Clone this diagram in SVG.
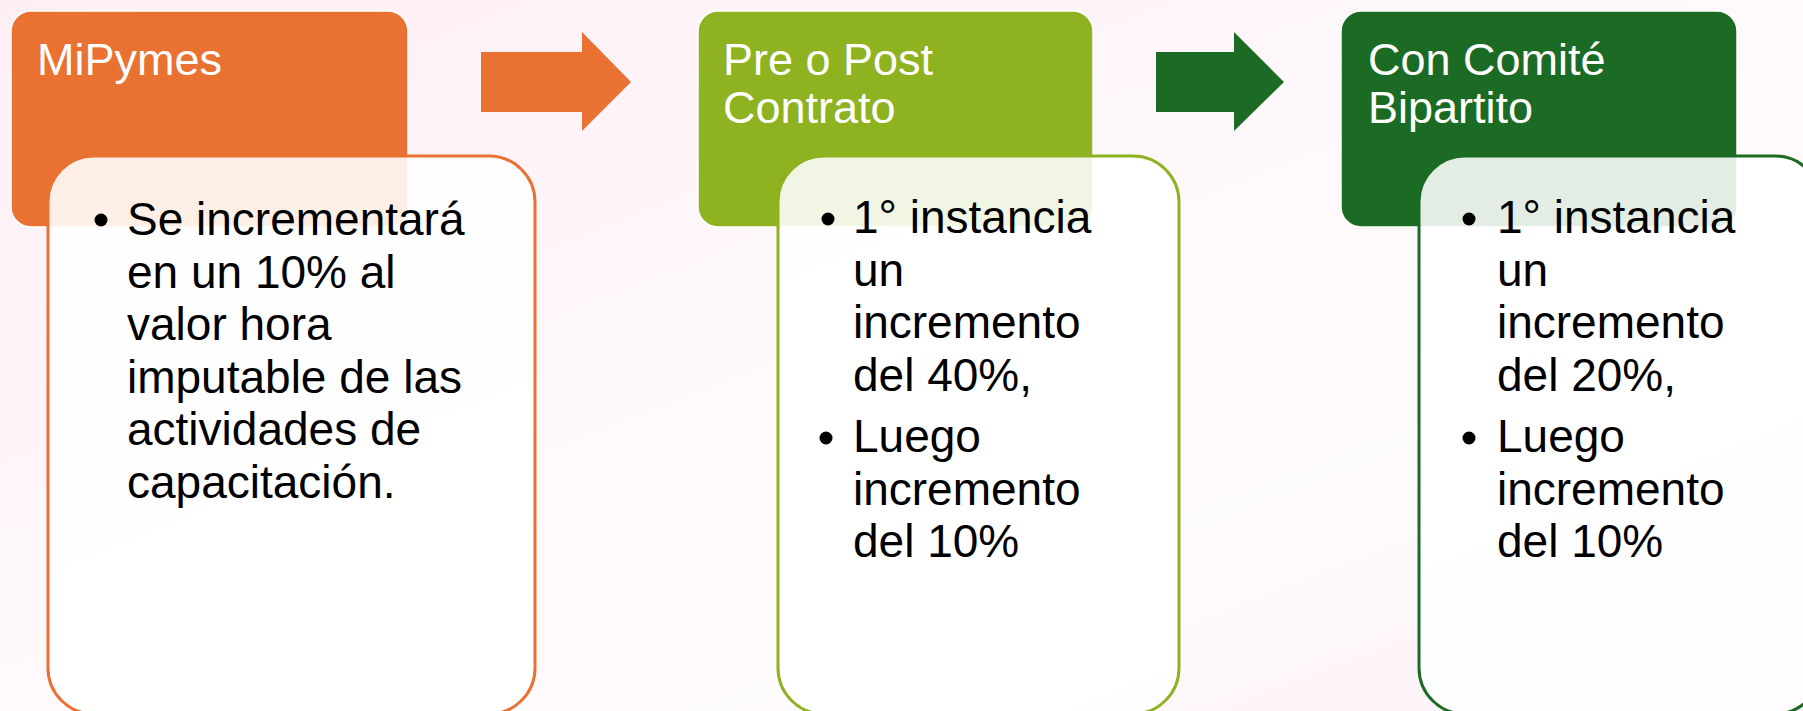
<svg xmlns="http://www.w3.org/2000/svg" width="1803" height="711" viewBox="0 0 1803 711">
  <defs>
    <linearGradient id="bg" x1="0" y1="0" x2="1" y2="1" gradientUnits="objectBoundingBox">
      <stop offset="0" stop-color="#FCEEF5"/>
      <stop offset="0.45" stop-color="#FEF8FB"/>
      <stop offset="0.7" stop-color="#FEFBFC"/>
      <stop offset="1" stop-color="#FCEFF6"/>
    </linearGradient>
  </defs>
  <style>
    .hdr { stroke: #FFFFFF; stroke-width: 1.5; }
    .body { fill: #FFFFFF; fill-opacity: 0.88; stroke-width: 3; }
    .htxt { font-family: "Liberation Sans", Arial, sans-serif; font-size: 45px; fill: #FFFFFF; }
    .btxt { font-family: "Liberation Sans", Arial, sans-serif; font-size: 46px; fill: #000000; }
    .dot { fill: #000000; }
  </style>
  <rect x="0" y="0" width="1803" height="711" fill="url(#bg)"/>

  <g id="connectors">
    <polygon points="481,52 582,52 582,32 631,82 582,131 582,112 481,112" fill="#E97132"/>
    <polygon points="1156,52 1234,52 1234,32 1284,82 1234,131 1234,112 1156,112" fill="#1C6B25"/>
  </g>

  <g id="node-mipymes">
    <rect class="hdr" x="11" y="11" width="397" height="216" rx="20" fill="#E97132"/>
    <text class="htxt" x="37" y="75">MiPymes</text>
    <rect class="body" x="48" y="156" width="487" height="558" rx="46" stroke="#E97132"/>
    <circle class="dot" cx="101" cy="220" r="6.5"/>
    <text class="btxt" x="127" y="235">Se incrementará</text>
    <text class="btxt" x="127" y="287.6">en un 10% al</text>
    <text class="btxt" x="127" y="340.2">valor hora</text>
    <text class="btxt" x="127" y="392.8">imputable de las</text>
    <text class="btxt" x="127" y="445.4">actividades de</text>
    <text class="btxt" x="127" y="498">capacitación.</text>
  </g>

  <g id="node-prepost">
    <rect class="hdr" x="698" y="11" width="395" height="216" rx="20" fill="#8EB220"/>
    <text class="htxt" x="723" y="75">Pre o Post</text>
    <text class="htxt" x="723" y="123">Contrato</text>
    <rect class="body" x="778" y="156" width="401" height="558" rx="46" stroke="#8EB220"/>
    <circle class="dot" cx="828" cy="219" r="6.5"/>
    <text class="btxt" x="853" y="233">1° instancia</text>
    <text class="btxt" x="853" y="285.5">un</text>
    <text class="btxt" x="853" y="338">incremento</text>
    <text class="btxt" x="853" y="391">del 40%,</text>
    <circle class="dot" cx="826" cy="438" r="6.5"/>
    <text class="btxt" x="853" y="452">Luego</text>
    <text class="btxt" x="853" y="504.5">incremento</text>
    <text class="btxt" x="853" y="557">del 10%</text>
  </g>

  <g id="node-comite">
    <rect class="hdr" x="1341" y="11" width="396" height="216" rx="20" fill="#1C6B25"/>
    <text class="htxt" x="1368" y="75">Con Comité</text>
    <text class="htxt" x="1368" y="123">Bipartito</text>
    <rect class="body" x="1419" y="156" width="402" height="558" rx="46" stroke="#1C6B25"/>
    <circle class="dot" cx="1469" cy="219" r="6.5"/>
    <text class="btxt" x="1497" y="233">1° instancia</text>
    <text class="btxt" x="1497" y="285.5">un</text>
    <text class="btxt" x="1497" y="338">incremento</text>
    <text class="btxt" x="1497" y="391">del 20%,</text>
    <circle class="dot" cx="1469" cy="438" r="6.5"/>
    <text class="btxt" x="1497" y="452">Luego</text>
    <text class="btxt" x="1497" y="504.5">incremento</text>
    <text class="btxt" x="1497" y="557">del 10%</text>
  </g>
</svg>
